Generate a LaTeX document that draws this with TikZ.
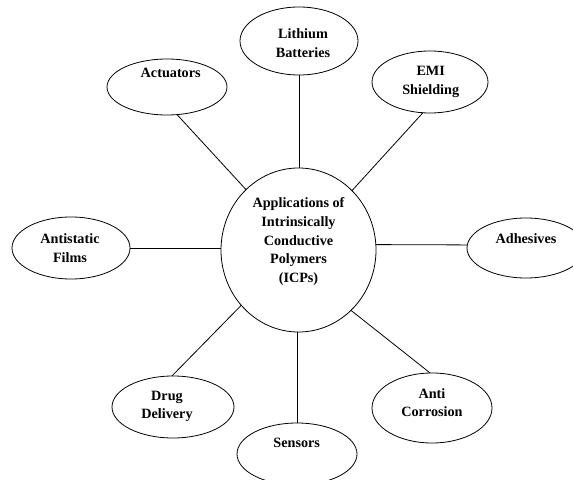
\documentclass[tikz,border=0pt]{standalone}
\usepackage{fontspec}
\setmainfont{Liberation Serif}
\usetikzlibrary{shapes.geometric}
\begin{document}
\begin{tikzpicture}[x=1bp,y=-1bp,
  bub/.style={ellipse, draw=black, line width=0.8bp, inner sep=0pt, outer sep=0pt},
  lbl/.style={align=center, inner sep=0pt, font=\fontsize{14.2bp}{18.7bp}\selectfont\bfseries},
  link/.style={draw=black, line width=0.8bp}]
\useasboundingbox (0,0) rectangle (573,480);
% ellipses
\node[bub, minimum width=155bp, minimum height=164bp] (C)   at (298.5,250) {};
\node[bub, minimum width=118bp, minimum height=68bp]  (lit) at (299,41) {};
\node[bub, minimum width=120bp, minimum height=56bp]  (act) at (167,87) {};
\node[bub, minimum width=116bp, minimum height=62bp]  (emi) at (430,82) {};
\node[bub, minimum width=118bp, minimum height=62bp]  (ant) at (71,248) {};
\node[bub, minimum width=118bp, minimum height=60bp]  (adh) at (526,248) {};
\node[bub, minimum width=122bp, minimum height=62bp]  (drg) at (173,407) {};
\node[bub, minimum width=120bp, minimum height=62bp]  (sen) at (297,454) {};
\node[bub, minimum width=120bp, minimum height=70bp]  (cor) at (432,408) {};
% texts
\node[lbl] (tC)   at (298.5,241.7) {Applications of\\Intrinsically\\Conductive\\Polymers\\(ICPs)};
\node[lbl] (tlit) at (303,43)   {Lithium\\Batteries};
\node[lbl] (tact) at (170.7,73) {Actuators};
\node[lbl] (temi) at (430.7,82) {EMI\\Shielding};
\node[lbl] (tant) at (70,248)   {Antistatic\\Films};
\node[lbl] (tadh) at (526,238.3) {Adhesives};
\node[lbl] (tdrg) at (167,406.5) {Drug\\Delivery};
\node[lbl] (tsen) at (296.7,443) {Sensors};
\node[lbl] (tcor) at (432,402.5) {Anti\\Corrosion};
% connectors
\draw[link] (lit.south) -- (lit.south |- C.north);
\draw[link] (act.290.4) -- (C.131.8);
\draw[link] (emi.257.3) -- (C.48.7);
\draw[link] (ant.east) -- (ant.east -| C.west);
\draw[link] (adh.177) -- (C.4);
\draw[link] (drg.92.5) -- (C.224.1);
\draw[link] (sen.north) -- (sen.north |- C.south);
\draw[link] (cor.93.3) -- (C.311.6);
\end{tikzpicture}
\end{document}
